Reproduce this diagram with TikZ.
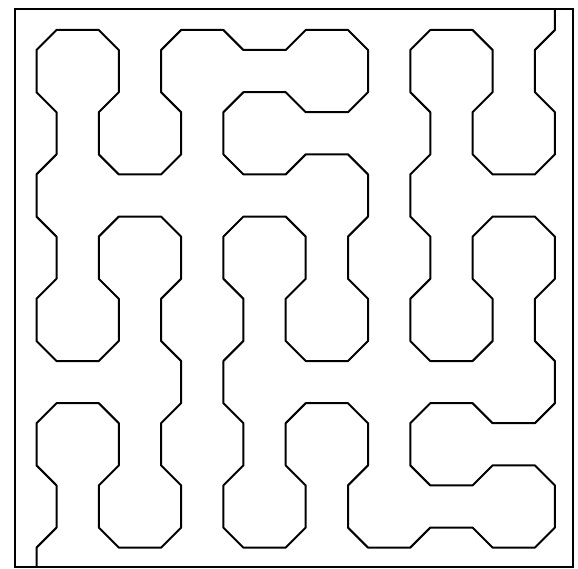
\documentclass[tikz,border=0pt]{standalone}
\usetikzlibrary{positioning}

\begin{document}
\begin{tikzpicture}[x=1pt,y=-1pt,
curve/.style={line width=2pt,line join=round},
frame/.style={line width=1.8pt},
declare function={
 par(\a,\b,\c,\d)=mod(abs(\c-\a)*(min(\a,\c)+\d)+abs(\d-\b)*(\c+min(\b,\d)),2);
 offx(\a,\b,\c,\d)=-(1-2*par(\a,\b,\c,\d))*10*abs(\d-\b);
 offy(\a,\b,\c,\d)=-(1-2*par(\a,\b,\c,\d))*10*abs(\c-\a);
 cx(\a)=46.5+62.3*\a;
 cy(\b)=40+62.2*\b;
}]
\useasboundingbox (0,0) rectangle (578,569);
\draw[frame] (15,9) rectangle (573,567);
% cells visited in order, column / row from the top
\begin{scope}
\clip (15,9) rectangle (573,567);
\draw[curve] (36.5,600)
 \foreach \ci/\cr [remember=\ci as \pvi (initially 0), remember=\cr as \pvr (initially 9)] in
 {0/8,0/7,0/6,1/6,1/7,1/8,2/8,2/7,2/6,
  2/5,2/4,2/3,1/3,1/4,1/5,0/5,0/4,0/3,
  0/2,0/1,0/0,1/0,1/1,1/2,2/2,2/1,2/0,
  3/0,4/0,5/0,5/1,4/1,3/1,3/2,4/2,5/2,
  5/3,5/4,5/5,4/5,4/4,4/3,3/3,3/4,3/5,
  3/6,3/7,3/8,4/8,4/7,4/6,5/6,5/7,5/8,
  6/8,7/8,8/8,8/7,7/7,6/7,6/6,7/6,8/6,
  8/5,8/4,8/3,7/3,7/4,7/5,6/5,6/4,6/3,
  6/2,6/1,6/0,7/0,7/1,7/2,8/2,8/1,8/0,8/-1}
 { -- ({cx(\pvi)+offx(\pvi,\pvr,\ci,\cr)+10*(\ci-\pvi)},{cy(\pvr)+offy(\pvi,\pvr,\ci,\cr)+10*(\cr-\pvr)})
   -- ({cx(\ci)+offx(\pvi,\pvr,\ci,\cr)-10*(\ci-\pvi)},{cy(\cr)+offy(\pvi,\pvr,\ci,\cr)-10*(\cr-\pvr)}) };
\end{scope}
\end{tikzpicture}
\end{document}
